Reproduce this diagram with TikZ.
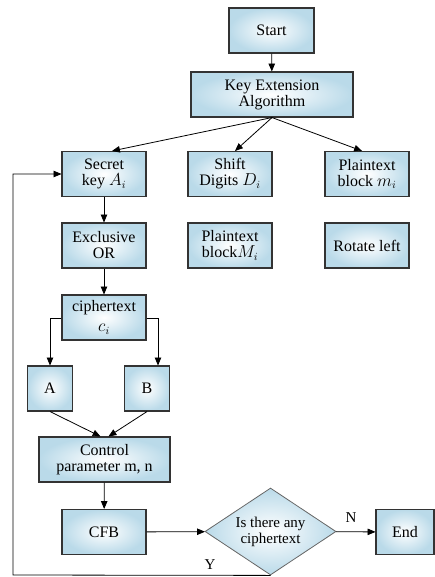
\documentclass[tikz,border=0pt]{standalone}
\usepackage{fontspec}
\setmainfont{Liberation Serif}
\usetikzlibrary{arrows,shapes.geometric}
\definecolor{boxblue}{RGB}{186,218,233}

\begin{document}
\begin{tikzpicture}[x=1pt,y=-1pt,
	flowbox/.style={
		draw=black!80, line width=1.1pt,
		inner color=white, outer color=boxblue,
		align=center, inner sep=2pt, minimum height=45pt,
		font=\fontsize{16}{16}\selectfont
	}]
	\useasboundingbox (0,0) rectangle (434,577);
	\tikzstyle{stdbox} = [flowbox,minimum width=84pt]
	\tikzstyle{smallbox} = [flowbox,minimum width=45pt]
	\tikzstyle{decbox} = [diamond,aspect=1.5,draw=black!60,line width=0.8pt,inner color=white,outer color=boxblue,
		align=center,inner sep=0pt,minimum width=131pt,minimum height=87pt,font=\fontsize{15}{16}\selectfont]
	\tikzstyle{link} = [->,>=triangle 45,thick]

	\node[flowbox,minimum width=85pt] (start) at (271.5,30.5) {Start};
	\node[flowbox,minimum width=162pt] (kea) at (272,94.5) {Key Extension\\Algorithm};

	\node[stdbox] (key) at (104,174) {Secret\\key $A_i$};
	\node[stdbox] (shift) at (230,174) {Shift\\Digits $D_i$};
	\node[stdbox] (plain) at (367,174) {Plaintext\\block $m_i$};

	\node[stdbox] (xor) at (104,245.5) {Exclusive\\OR};
	\node[stdbox] (plainM) at (230,245.5) {Plaintext\\block$M_i$};
	\node[stdbox] (rot) at (367,245.5) {Rotate left};

	\node[stdbox] (cip) at (104,317.5) {ciphertext\\[4pt]$c_i$};
	\node[smallbox] (A) at (50,388.5) {A};
	\node[smallbox] (B) at (147,388.5) {B};

	\node[flowbox,minimum width=131pt] (ctrl) at (104.5,459.5) {Control\\parameter m, n};
	\node[stdbox] (cfb) at (104,532) {CFB};
	\node[decbox] (dec) at (270.5,531.5) {Is there any\\ciphertext};
	\node[flowbox,minimum width=58pt] (fin) at (405,532) {End};

	\draw[link] (start) -- (kea);
	\draw[link] (kea.south) -- ([xshift=8pt]key.north);
	\draw[link] (kea.south) -- ([xshift=5pt]shift.north);
	\draw[link] (kea.south) -- ([xshift=-5pt]plain.north);

	\draw[link] (key) -- (xor);
	\draw[link] (xor) -- (cip);
	\draw[link] ([yshift=-1pt]cip.west) -| (A.north);
	\draw[link] ([yshift=-1pt]cip.east) -| ([xshift=11pt]B.north);
	\draw[link] (A.south) -- ([xshift=-4pt]ctrl.north);
	\draw[link] (B.south) -- ([xshift=4pt]ctrl.north);
	\draw[link] (ctrl) -- (cfb);
	\draw[link] (cfb) -- (dec);
	\draw[link] (dec) -- (fin);
	\node[font=\fontsize{15}{16}\selectfont] (no) at (351,518) {N};

	% loop back to the key
	\coordinate (back) at (13,575);
	\draw[link] (dec.south) -- (back) |- (key.west);
	\node[font=\fontsize{15}{16}\selectfont] (yes) at (210,565) {Y};
\end{tikzpicture}
\end{document}
